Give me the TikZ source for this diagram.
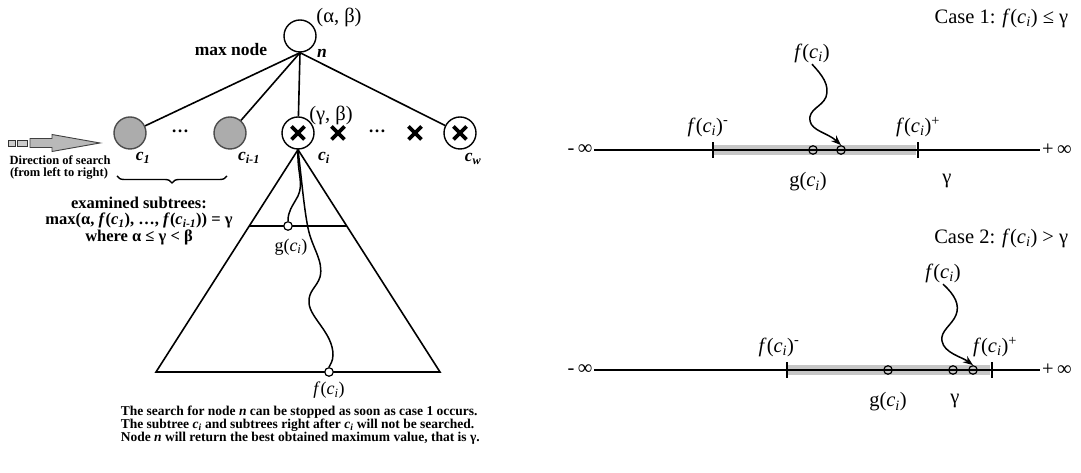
\documentclass[tikz,border=0pt]{standalone}
\usepackage{fontspec}
\setmainfont{Liberation Serif}
\usetikzlibrary{decorations.pathreplacing,arrows.meta}
\newcommand\myf[1]{\textit{f}(\textit{c}\textsubscript{\textit{#1}})}
\newcommand\myg[1]{g(\textit{c}\textsubscript{\textit{#1}})}
\begin{document}
\begin{tikzpicture}[x=1pt,y=1pt,line width=1.6pt,
  every node/.style={inner sep=1pt},
  plain/.style={circle,draw,minimum size=32pt,inner sep=0pt,line width=1.4pt},
  grey/.style={plain,fill=gray!65,draw=gray!60!black},
  xcross/.style={path picture={\draw[line width=3.8pt]
      ([shift={(-6.5,-6.5)}]path picture bounding box.center) -- ([shift={(6.5,6.5)}]path picture bounding box.center)
      ([shift={(-6.5,6.5)}]path picture bounding box.center) -- ([shift={(6.5,-6.5)}]path picture bounding box.center);}},
  xonly/.style={rectangle,minimum size=19pt,inner sep=0pt,xcross},
  dot/.style={circle,draw,minimum size=8.5pt,inner sep=0pt,line width=1.2pt},
  big/.style={font=\fontsize{20.5}{24}\selectfont},
  mid/.style={font=\bfseries\fontsize{17.5}{20}\selectfont},
  lab/.style={font=\fontsize{18}{21}\selectfont},
  small/.style={font=\bfseries\fontsize{12.5}{14}\selectfont},
  note/.style={font=\bfseries\fontsize{13.5}{15}\selectfont,anchor=west},
  wave/.style={line width=1.5pt},
  band/.style={fill=gray!45},
  tip/.style={-{Stealth[length=10pt,width=7.5pt]},line width=1.5pt}
]
\useasboundingbox (0,0) rectangle (1081,473);

% ---------------- tree ----------------
\node[plain] (n) at (300,437) {};
\node[big] (ab) at (339,456) {(α, β)};
\node[mid,anchor=east] (mx) at (269,423) {max node};
\node[mid] (nl) at (322,420) {\textit{n}};

\node[grey] (c1) at (130,340) {};
\node[grey] (ci1) at (230,340) {};
\node[plain,xcross] (ci) at (298,340) {};
\node[xonly] (x1) at (338,340) {};
\node[xonly] (x2) at (415,340) {};
\node[plain,xcross] (cw) at (460,340) {};
\node[mid] (d1) at (180,342) {…};
\node[mid] (d2) at (377,342) {…};

\draw (n.south) -- (c1);
\draw (n.south) -- (ci1);
\draw (n.south) -- (ci);
\draw (n.south) -- (cw);

\node[big] (gb) at (331,358) {(γ, β)};
\node[mid] (lc1) at (143,315) {\textit{c}\textsubscript{\textit{1}}};
\node[mid] (lci1) at (249,315) {\textit{c}\textsubscript{\textit{i}-\textit{1}}};
\node[mid] (lci) at (324,315) {\textit{c}\textsubscript{\textit{i}}};
\node[mid] (lcw) at (473,314) {\textit{c}\textsubscript{\textit{w}}};

% direction arrow
\draw[fill=gray!40,draw=black!80,line width=0.9pt] (8,327) rectangle (15,333);
\draw[fill=gray!40,draw=black!80,line width=0.9pt] (17,327) rectangle (27,333);
\draw[fill=gray!55,draw=black!75,line width=0.9pt] (30,325.5) -- (52,325.5) -- (52,321.5) -- (100,330) -- (52,338.5) -- (52,334.5) -- (30,334.5) -- cycle;
\node[small] (dir1) at (60,313) {Direction of search};
\node[small] (dir2) at (59,300) {(from left to right)};

% brace and text
\coordinate (bl) at (117,297);
\coordinate (br) at (227,297);
\draw[line width=1.4pt,decorate,decoration={brace,mirror,amplitude=7pt}] (bl) -- (br);
\node[align=center,inner sep=0pt,font=\bfseries\fontsize{16.5}{16.5}\selectfont] (ex) at (139,252)
  {examined subtrees:\\ max(α, \myf{1}, …, \textit{f}(\textit{c}\textsubscript{\textit{i}-\textit{1}})) = γ\\ where α ≤ γ < β};

% subtree triangle
\coordinate (tl) at (156,101);
\coordinate (tr) at (440,101);
\draw (ci.south) -- (tl) -- (tr) -- cycle;
\coordinate (hl) at (249,247);
\coordinate (hr) at (347,247);
\draw (hl) -- (hr);
\node[dot,fill=white] (gci) at (288,247) {};
\node[dot,fill=white] (fci) at (329,101) {};
\draw[wave] (ci.south) .. controls (297,300) and (304,290) .. (298,277)
  .. controls (292,266) and (288,262) .. (gci.north);
\draw[wave] (ci.south) .. controls (302,290) and (304,265) .. (308,245)
  .. controls (312,225) and (324,212) .. (320,196)
  .. controls (317,186) and (308,182) .. (309,170)
  .. controls (310,155) and (333,140) .. (333,118)
  .. controls (333,112) and (330,108) .. (fci.north);
\node[lab] (lg) at (291,226) {\myg{i}};
\node[lab] (lf) at (329,83) {\myf{i}};

\node[note] (t1) at (119,61) {The search for node \textit{n} can be stopped as soon as case 1 occurs.};
\node[note] (t2) at (119,48) {The subtree \textit{c}\textsubscript{\textit{i}} and subtrees right after \textit{c}\textsubscript{\textit{i}} will not be searched.};
\node[note] (t3) at (119,35) {Node \textit{n} will return the best obtained maximum value, that is γ.};

% ---------------- case 1 ----------------
\node[big,anchor=east] (case1) at (1070,455) {Case 1: \myf{i} ≤ γ};
\fill[band] (713,318) rectangle (916,328);
\node[big] (m1) at (580,323) {-\,∞};
\node[big] (p1) at (1057,323) {+\,∞};
\draw (m1.east) -- (p1.west);
\draw (713,315) coordinate (a1) -- (713,331) coordinate (a2);
\draw (918,315) coordinate (b1) -- (918,331) coordinate (b2);
\node[dot] (o11) at (813,323) {};
\node[dot] (o12) at (841,323) {};
\node[big] (fm1) at (708,346) {\myf{i}\textsuperscript{-}};
\node[big] (fp1) at (918,346) {\myf{i}\textsuperscript{+}};
\node[big] (g1) at (808,291) {\myg{i}};
\node[big] (y1) at (947,292) {γ};
\node[big] (f1) at (812,420) {\myf{i}};
\draw[tip] (f1.south) .. controls (822,398) and (830,388) .. (826,376)
  .. controls (822,366) and (808,364) .. (810,352)
  .. controls (812,342) and (828,340) .. (o12.north);

% ---------------- case 2 ----------------
\node[big,anchor=east] (case2) at (1070,235) {Case 2: \myf{i} > γ};
\fill[band] (787,98) rectangle (990,108);
\node[big] (m2) at (580,103) {-\,∞};
\node[big] (p2) at (1057,103) {+\,∞};
\draw (m2.east) -- (p2.west);
\draw (787,95) coordinate (a3) -- (787,111) coordinate (a4);
\draw (992,95) coordinate (b3) -- (992,111) coordinate (b4);
\node[dot] (o21) at (888,103) {};
\node[dot] (o22) at (953,103) {};
\node[dot] (o23) at (973,103) {};
\node[big] (fm2) at (779,126) {\myf{i}\textsuperscript{-}};
\node[big] (fp2) at (995,126) {\myf{i}\textsuperscript{+}};
\node[big] (g2) at (888,71) {\myg{i}};
\node[big] (y2) at (955,72) {γ};
\node[big] (f2) at (943,200) {\myf{i}};
\draw[tip] (f2.south) .. controls (955,178) and (960,168) .. (956,158)
  .. controls (952,148) and (940,142) .. (942,132)
  .. controls (944,120) and (962,116) .. (o23.north);
\end{tikzpicture}
\end{document}
